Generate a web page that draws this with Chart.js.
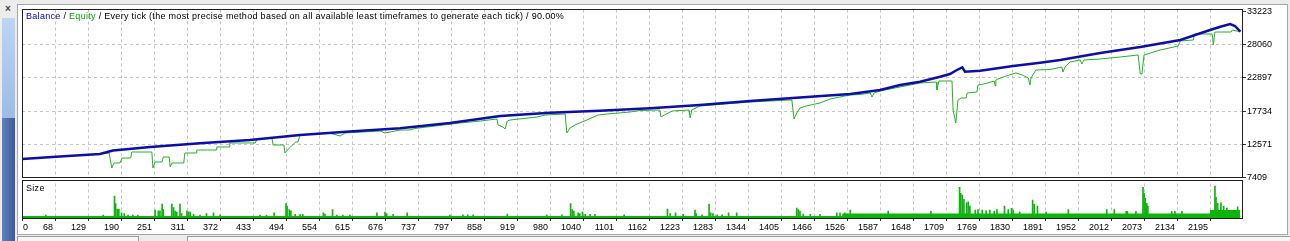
<!DOCTYPE html>
<html>
<head>
<meta charset="utf-8">
<script src="https://cdn.jsdelivr.net/npm/chart.js@4.4.1/dist/chart.umd.min.js"></script>
<style>
  html, body { margin: 0; padding: 0; }
  body {
    width: 1290px; height: 241px; position: relative; overflow: hidden;
    background: #ececec; font-family: 'Liberation Sans', Arial, sans-serif;
  }
  .close { position: absolute; left: 5px; top: 3px; font-size: 10px; color: #444; font-weight: bold; }
  .tab-light { position: absolute; left: 2px; top: 18px; width: 13px; height: 100px; background: linear-gradient(#bcd5f3, #9dbbe4); }
  .tab-dark { position: absolute; left: 2px; top: 118px; width: 13px; height: 123px; background: linear-gradient(90deg, #6382bb, #3b5a98); }
  .tab-text { position: absolute; left: -9px; top: 236px; width: 40px; color: #fff; font-size: 10px; transform: rotate(-90deg); transform-origin: 0 0; white-space: nowrap; }
  .panel { position: absolute; left: 17px; top: 4px; width: 1269px; height: 229px; background: #fff; border: 1px solid #a8a8a8; }
  .wrap { position: absolute; left: 17px; top: 5px; width: 1269px; height: 229px; }
  .foot1 { position: absolute; left: 17px; top: 236px; width: 120px; height: 6px; background: #f6f6f6; border: 1px solid #9a9a9a; }
  .foot2 { position: absolute; left: 187px; top: 236px; width: 1110px; height: 6px; background: #f6f6f6; border: 1px solid #9a9a9a; }
</style>
</head>
<body>
<div class="close">×</div>
<div class="tab-light"></div>
<div class="tab-dark"><div class="tab-text">Tester</div></div>
<div class="panel"></div>
<div class="foot1"></div>
<div class="foot2"></div>
<div class="wrap"><canvas id="chart"></canvas></div>
<script>
// x axis: trade number, tick labels as printed
const xTickLabels = ['0', '68', '129', '190', '251', '311', '372', '433', '494', '554', '615', '676', '737',
  '797', '858', '919', '980', '1040', '1101', '1162', '1223', '1283', '1344', '1405', '1466', '1526',
  '1587', '1648', '1709', '1769', '1830', '1891', '1952', '2012', '2073', '2134', '2195'];
const tickStep = 61;
const tradeMax = 2255;

// y axis ticks (money)
const yTickValues = [7409, 12571, 17734, 22897, 28060, 33223];

// Balance curve
const balanceTrade = [0, 70, 144, 168, 237, 329, 421, 514, 606, 699, 791, 884, 976, 1068, 1161, 1253,
  1346, 1438, 1531, 1586, 1623, 1660, 1697, 1715, 1728, 1738, 1743, 1771, 1832, 1882, 1919, 1993, 2067,
  2141, 2178, 2196, 2215, 2233, 2242, 2252];
const balanceValue = [10286, 10675, 11063, 11608, 12152, 12727, 13240, 14018, 14562, 15060, 15884, 16972,
  17485, 17796, 18170, 18683, 19305, 19849, 20393, 21015, 21793, 22306, 23083, 23503, 24125, 24545, 23861,
  24016, 24747, 25260, 25680, 26769, 27702, 28790, 29832, 30345, 30858, 31278, 30967, 30081];

// Equity curve
const equityTrade = [0, 70, 144, 161, 166, 170, 181, 185, 201, 203, 240, 242, 246, 259, 261, 272, 274, 277,
  299, 301, 322, 323, 359, 360, 383, 384, 431, 434, 462, 464, 484, 486, 494, 506, 510, 514, 569, 588, 597,
  662, 671, 699, 717, 726, 810, 847, 878, 880, 889, 893, 897, 902, 952, 967, 1004, 1007, 1013, 1022, 1035,
  1044, 1065, 1081, 1124, 1142, 1179, 1181, 1187, 1202, 1233, 1235, 1238, 1253, 1346, 1420, 1423, 1427,
  1433, 1438, 1449, 1475, 1494, 1521, 1531, 1549, 1568, 1571, 1575, 1586, 1623, 1660, 1690, 1691, 1695,
  1719, 1721, 1726, 1730, 1736, 1745, 1747, 1765, 1767, 1782, 1797, 1799, 1800, 1804, 1819, 1837, 1849,
  1860, 1863, 1865, 1874, 1900, 1922, 1924, 1928, 1937, 1956, 1959, 1963, 1993, 2030, 2063, 2067, 2070,
  2074, 2104, 2137, 2141, 2165, 2167, 2200, 2202, 2205, 2235, 2237, 2252];
const equityValue = [10286, 10675, 11063, 11219, 8886, 9664, 9664, 10441, 10441, 11374, 11374, 8886, 9819,
  9819, 10597, 10597, 9042, 9664, 9664, 11219, 11219, 11685, 11685, 12152, 12152, 12774, 12774, 13300,
  13583, 12463, 12463, 11219, 11996, 12929, 12929, 14018, 14300, 13862, 14329, 14640, 14329, 14795, 14795,
  15029, 15884, 16195, 16506, 15573, 15262, 14951, 16195, 16350, 16817, 17128, 17283, 14329, 15106, 15573,
  16039, 16350, 17128, 17283, 17594, 17828, 17905, 16817, 17128, 17750, 17905, 16661, 17905, 18527, 19150,
  19460, 19460, 16506, 17594, 18216, 18527, 18994, 19616, 20082, 20238, 20316, 20549, 19927, 20549, 20860,
  21482, 22104, 22259, 21015, 22415, 22415, 17905, 15884, 19460, 19771, 19771, 20549, 20704, 21793, 22026,
  22415, 21637, 22570, 22726, 23192, 23659, 23348, 22881, 21793, 22881, 24125, 24203, 24592, 23814, 24592,
  25369, 25680, 25058, 25680, 25836, 26147, 26458, 23503, 23503, 26458, 27235, 27857, 28635, 28790, 29723,
  29723, 28013, 30034, 30034, 30345, 30081];

// Size (lots): minimum lot steps and the larger trades
const baseTrade = [0, 1516, 2196, 2252];
const baseLots = [0.1, 0.22, 0.4, 0.4];
const sizeTrade = [44, 150, 171, 173, 176, 179, 184, 189, 196, 205, 214, 246, 252, 255, 259, 261, 277, 280,
  283, 286, 292, 295, 305, 308, 311, 317, 329, 341, 354, 366, 440, 452, 466, 488, 490, 494, 497, 505, 514,
  519, 557, 560, 574, 582, 593, 606, 656, 671, 674, 686, 712, 791, 815, 824, 834, 897, 970, 998, 1014, 1017,
  1020, 1028, 1031, 1036, 1041, 1050, 1059, 1113, 1193, 1198, 1208, 1222, 1244, 1246, 1257, 1270, 1273,
  1277, 1285, 1294, 1306, 1321, 1432, 1435, 1438, 1444, 1457, 1475, 1506, 1512, 1521, 1531, 1601, 1680,
  1733, 1735, 1738, 1741, 1746, 1749, 1752, 1762, 1767, 1775, 1782, 1789, 1797, 1802, 1816, 1823, 1829,
  1832, 1844, 1868, 1871, 1877, 1893, 1934, 2005, 2019, 2041, 2043, 2059, 2072, 2074, 2076, 2079, 2081,
  2125, 2131, 2144, 2205, 2207, 2210, 2216, 2221, 2227, 2247];
const sizeLots = [0.14, 0.14, 1.1, 0.72, 0.44, 0.44, 0.26, 0.22, 0.14, 0.14, 0.14, 0.39, 0.36, 0.36, 0.69,
  0.42, 0.69, 0.52, 0.34, 0.3, 0.69, 0.22, 0.36, 0.31, 0.3, 0.18, 0.14, 0.22, 0.26, 0.14, 0.14, 0.14, 0.26,
  0.72, 0.59, 0.42, 0.36, 0.18, 0.18, 0.18, 0.26, 0.19, 0.42, 0.14, 0.14, 0.14, 0.26, 0.3, 0.22, 0.18, 0.26,
  0.14, 0.16, 0.16, 0.16, 0.19, 0.16, 0.16, 0.72, 0.42, 0.34, 0.26, 0.22, 0.3, 0.18, 0.18, 0.18, 0.16, 0.44,
  0.22, 0.26, 0.18, 0.39, 0.22, 0.16, 0.69, 0.26, 0.22, 0.16, 0.16, 0.26, 0.26, 0.5, 0.42, 0.34, 0.19, 0.18,
  0.18, 0.26, 0.26, 0.26, 0.39, 0.34, 0.34, 1.53, 1.23, 1.14, 0.93, 0.76, 0.81, 0.59, 0.39, 0.42, 0.39, 0.36,
  0.39, 0.34, 0.42, 0.59, 0.42, 0.48, 0.39, 0.3, 0.89, 0.68, 0.59, 0.3, 0.42, 0.42, 0.42, 0.33, 0.33, 0.33,
  1.53, 1.23, 0.98, 0.73, 0.59, 0.33, 0.33, 0.33, 1.59, 1.03, 0.73, 0.76, 0.59, 0.49, 0.56];

const BLUE = '#0d0daa';
const GREEN = '#22b422';
const SIZE_GREEN = '#0cb40c';
const GRID = '#c4c4c4';
const FONT = '"Liberation Sans", Arial, sans-serif';

const toPoints = (xs, ys) => xs.map((x, i) => ({ x, y: ys[i] }));

// frames, panel gap, title texts and x labels (MT4 style)
const testerPanels = {
  id: 'testerPanels',
  beforeDatasetsDraw(chart) {
    const { ctx, chartArea, scales } = chart;
    ctx.save();
    ctx.fillStyle = '#fff';
    ctx.fillRect(chartArea.left, scales.y.bottom, chartArea.right - chartArea.left, 3);
    ctx.restore();
  },
  afterDraw(chart) {
    const { ctx, chartArea, scales } = chart;
    const { left, right, top, bottom } = chartArea;
    const split = scales.y.bottom;
    ctx.save();
    ctx.strokeStyle = '#1e1e1e';
    ctx.lineWidth = 1;
    ctx.strokeRect(left + 0.5, top, right - left, split - top);
    ctx.strokeRect(left + 0.5, split + 3, right - left, bottom + 0.5 - split - 3);

    ctx.font = '9px ' + FONT;
    ctx.textBaseline = 'middle';
    ctx.textAlign = 'left';
    ctx.letterSpacing = '0.3px';
    let tx = left + 4;
    const ty = top + 7.5;
    [['Balance', '#0000c8'], [' / ', '#000'], ['Equity', '#00a800'],
     [' / Every tick (the most precise method based on all available least timeframes to generate each tick) / 90.00%', '#000']]
      .forEach(([s, c]) => {
        ctx.fillStyle = c;
        ctx.fillText(s, tx, ty);
        tx += ctx.measureText(s).width;
      });
    ctx.fillStyle = '#000';
    ctx.fillText('Size', left + 4, split + 3 + 8);
    ctx.letterSpacing = '0px';

    const x = scales.x;
    x.ticks.forEach((t, i) => {
      const px = x.getPixelForValue(t.value);
      ctx.textAlign = i === 0 ? 'left' : 'right';
      ctx.fillText(xTickLabels[i], i === 0 ? px + 1 : px - 2, bottom + 9.5);
    });
    ctx.restore();
  }
};

new Chart(document.getElementById('chart'), {
  type: 'line',
  data: {
    datasets: [
      {
        label: 'Balance',
        data: toPoints(balanceTrade, balanceValue),
        borderColor: BLUE,
        borderWidth: 2.5,
        pointRadius: 0,
        yAxisID: 'y'
      },
      {
        label: 'Equity',
        data: toPoints(equityTrade, equityValue),
        borderColor: GREEN,
        borderWidth: 1,
        pointRadius: 0,
        yAxisID: 'y'
      },
      {
        type: 'bar',
        label: 'Size',
        data: toPoints(sizeTrade, sizeLots),
        backgroundColor: SIZE_GREEN,
        barThickness: 1,
        yAxisID: 'y2'
      },
      {
        label: 'Size base',
        data: toPoints(baseTrade, baseLots),
        stepped: true,
        fill: 'origin',
        backgroundColor: SIZE_GREEN,
        borderColor: SIZE_GREEN,
        borderWidth: 0,
        pointRadius: 0,
        yAxisID: 'y2'
      }
    ]
  },
  options: {
    responsive: true,
    maintainAspectRatio: false,
    animation: false,
    devicePixelRatio: 1,
    layout: { padding: { left: 5, top: 4.5, right: 0, bottom: 0 } },
    plugins: { legend: { display: false }, tooltip: { enabled: false } },
    scales: {
      x: {
        type: 'linear',
        offset: false,
        min: 0,
        max: tradeMax,
        afterBuildTicks(scale) {
          scale.ticks = xTickLabels.map((_, i) => ({ value: i * tickStep }));
        },
        afterFit(scale) {
          scale.height = 16;
          scale.paddingLeft = 0;
          scale.paddingRight = 0;
        },
        ticks: { display: false },
        grid: { offset: false, color: GRID, tickColor: '#333', tickLength: 3, drawTicks: true },
        border: { display: false, dash: [3, 3] }
      },
      y: {
        position: 'right',
        stack: 'panels',
        stackWeight: 168,
        min: 7409,
        max: 33533,
        afterBuildTicks(scale) {
          scale.ticks = yTickValues.map(v => ({ value: v }));
        },
        afterFit(scale) {
          scale.width = 44;
          scale.paddingTop = 0;
          scale.paddingBottom = 0;
        },
        ticks: {
          color: '#000',
          font: { family: FONT, size: 9 },
          padding: 1,
          autoSkip: false,
          callback: v => String(v)
        },
        grid: {
          color: ctx => (ctx.index === 0 || ctx.index === yTickValues.length - 1) ? 'rgba(0,0,0,0)' : GRID,
          tickColor: '#333',
          tickLength: 4
        },
        border: { display: false, dash: [3, 3] }
      },
      y2: {
        position: 'right',
        stack: 'panels',
        stackWeight: 40.5,
        min: 0,
        max: 2.025,
        afterFit(scale) {
          scale.width = 44;
          scale.paddingTop = 0;
          scale.paddingBottom = 0;
        },
        ticks: { display: false },
        grid: { display: false },
        border: { display: false }
      }
    }
  },
  plugins: [testerPanels]
});
</script>
</body>
</html>
